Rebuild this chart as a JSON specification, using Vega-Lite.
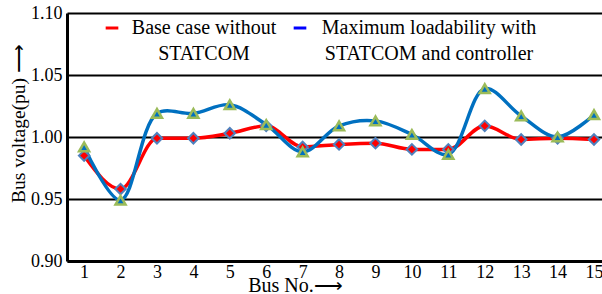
{
  "$schema": "https://vega.github.io/schema/vega-lite/v6.json",
  "width": 535,
  "height": 248,
  "autosize": "none",
  "padding": {"left": 67, "top": 13, "right": 0, "bottom": 33},
  "background": "white",
  "config": {
    "font": "Times New Roman, Liberation Serif, DejaVu Serif, serif",
    "view": {"stroke": null}
  },
  "data": {
    "values": [
      {"bus": 1, "series": "Base case without STATCOM", "v": 0.985},
      {"bus": 2, "series": "Base case without STATCOM", "v": 0.958},
      {"bus": 3, "series": "Base case without STATCOM", "v": 0.999},
      {"bus": 4, "series": "Base case without STATCOM", "v": 0.999},
      {"bus": 5, "series": "Base case without STATCOM", "v": 1.003},
      {"bus": 6, "series": "Base case without STATCOM", "v": 1.009},
      {"bus": 7, "series": "Base case without STATCOM", "v": 0.992},
      {"bus": 8, "series": "Base case without STATCOM", "v": 0.994},
      {"bus": 9, "series": "Base case without STATCOM", "v": 0.995},
      {"bus": 10, "series": "Base case without STATCOM", "v": 0.990},
      {"bus": 11, "series": "Base case without STATCOM", "v": 0.990},
      {"bus": 12, "series": "Base case without STATCOM", "v": 1.009},
      {"bus": 13, "series": "Base case without STATCOM", "v": 0.998},
      {"bus": 14, "series": "Base case without STATCOM", "v": 0.999},
      {"bus": 15, "series": "Base case without STATCOM", "v": 0.998},
      {"bus": 1, "series": "Maximum loadability with STATCOM and controller", "v": 0.992},
      {"bus": 2, "series": "Maximum loadability with STATCOM and controller", "v": 0.949},
      {"bus": 3, "series": "Maximum loadability with STATCOM and controller", "v": 1.019},
      {"bus": 4, "series": "Maximum loadability with STATCOM and controller", "v": 1.019},
      {"bus": 5, "series": "Maximum loadability with STATCOM and controller", "v": 1.026},
      {"bus": 6, "series": "Maximum loadability with STATCOM and controller", "v": 1.010},
      {"bus": 7, "series": "Maximum loadability with STATCOM and controller", "v": 0.988},
      {"bus": 8, "series": "Maximum loadability with STATCOM and controller", "v": 1.009},
      {"bus": 9, "series": "Maximum loadability with STATCOM and controller", "v": 1.013},
      {"bus": 10, "series": "Maximum loadability with STATCOM and controller", "v": 1.002},
      {"bus": 11, "series": "Maximum loadability with STATCOM and controller", "v": 0.986},
      {"bus": 12, "series": "Maximum loadability with STATCOM and controller", "v": 1.039},
      {"bus": 13, "series": "Maximum loadability with STATCOM and controller", "v": 1.017},
      {"bus": 14, "series": "Maximum loadability with STATCOM and controller", "v": 1.000},
      {"bus": 15, "series": "Maximum loadability with STATCOM and controller", "v": 1.018}
    ]
  },
  "encoding": {
    "x": {
      "field": "bus", "type": "quantitative",
      "scale": {"domain": [0.53, 15.22], "nice": false, "zero": false},
      "axis": {
        "values": [1,2,3,4,5,6,7,8,9,10,11,12,13,14,15],
        "grid": false, "ticks": false,
        "domainColor": "black", "domainWidth": 3,
        "labelFont": "Times New Roman, Liberation Serif, serif", "labelFontSize": 18, "labelColor": "black",
        "labelPadding": 2,
        "title": "Bus No.⟶",
        "titleFont": "Times New Roman, Liberation Serif, serif", "titleFontSize": 20, "titleFontWeight": "normal", "titleColor": "black",
        "titleX": 228, "titleY": 24, "titleBaseline": "middle", "titleAlign": "center"
      }
    },
    "y": {
      "field": "v", "type": "quantitative",
      "scale": {"domain": [0.9, 1.1], "nice": false, "zero": false},
      "axis": {
        "values": [0.9, 0.95, 1.0, 1.05, 1.1],
        "format": ".2f",
        "grid": true, "gridColor": "black", "gridWidth": 2, "gridOpacity": 1,
        "ticks": false,
        "domainColor": "black", "domainWidth": 3,
        "labelFont": "Times New Roman, Liberation Serif, serif", "labelFontSize": 18, "labelColor": "black",
        "labelPadding": 5,
        "title": "Bus voltage(pu) ⟶",
        "titleFont": "Times New Roman, Liberation Serif, serif", "titleFontSize": 19.5, "titleFontWeight": "normal", "titleColor": "black",
        "titleX": -49, "titleBaseline": "middle", "titleAlign": "center", "titleY": 110
      }
    }
  },
  "layer": [
    {
      "transform": [{"filter": "datum.series == 'Base case without STATCOM'"}],
      "mark": {"type": "line", "interpolate": "monotone", "strokeWidth": 3.5},
      "encoding": {
        "color": {
          "field": "series", "type": "nominal",
          "scale": {
            "domain": ["Base case without STATCOM", "Maximum loadability with STATCOM and controller"],
            "range": ["#ff0000", "#0000ff"]
          },
          "legend": {
            "orient": "none", "legendX": 35, "legendY": 5,
            "direction": "horizontal", "title": null,
            "symbolType": "stroke", "symbolStrokeWidth": 3, "symbolSize": 160,
            "labelFont": "Times New Roman, Liberation Serif, serif", "labelFontSize": 20, "labelColor": "black",
            "labelLimit": 400, "columnPadding": 10, "labelOffset": 8,
            "labelBaseline": "middle", "labelAlign": "center",
            "labelExpr": "datum.label == 'Base case without STATCOM' ? ['Base case without', 'STATCOM'] : ['Maximum loadability with', 'STATCOM and controller']",
            "encode": {
              "labels": {"update": {
                "lineHeight": {"value": 26},
                "dx": {"signal": "datum.label == 'Base case without STATCOM' ? 74 : 111"}
              }}
            }
          }
        }
      }
    },
    {
      "transform": [{"filter": "datum.series != 'Base case without STATCOM'"}],
      "mark": {"type": "line", "interpolate": "catmull-rom", "strokeWidth": 3.5, "color": "#0070c0"},
      "encoding": {}
    },
    {
      "transform": [{"filter": "datum.series == 'Base case without STATCOM'"}],
      "mark": {"type": "point", "shape": "diamond", "filled": true, "fill": "#ff0000", "stroke": "#4f81bd", "strokeWidth": 2, "size": 110, "opacity": 1},
      "encoding": {}
    },
    {
      "transform": [{"filter": "datum.series != 'Base case without STATCOM'"}],
      "mark": {"type": "point", "shape": "triangle-up", "filled": true, "fill": "#0070c0", "stroke": "#9bbb59", "strokeWidth": 2.5, "size": 100, "opacity": 1},
      "encoding": {}
    }
  ]
}
